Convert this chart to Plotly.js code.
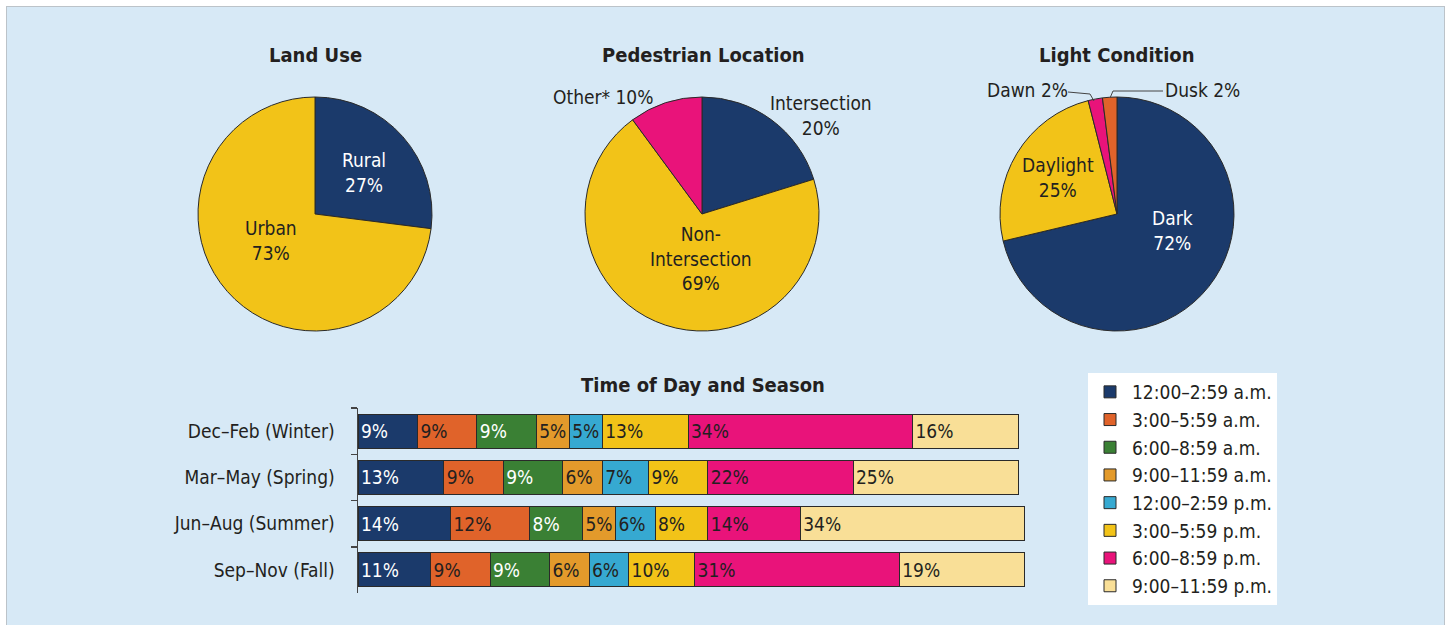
<!DOCTYPE html>
<html><head><meta charset="utf-8">
<script src="https://cdn.plot.ly/plotly-3.0.1.min.js"></script>
<style>
html,body{margin:0;padding:0;background:#fff;width:1449px;height:625px;overflow:hidden}
#bg{position:absolute;left:6px;top:6px;width:1439px;height:630px;background:#d7e9f6;border:1.5px solid #bcc3c9;box-sizing:border-box}
#chart{position:absolute;left:0;top:0;width:1449px;height:625px}
</style></head>
<body><div id="bg"></div><div id="chart"></div>
<script>
// ---- data ----
const landLabels = ['Rural', 'Urban'];
const landValues = [27, 73];
const locLabels = ['Intersection', 'Non-Intersection', 'Other*'];
const locValues = [20, 69, 10];
const lightLabels = ['Dark', 'Daylight', 'Dawn', 'Dusk'];
const lightValues = [72, 25, 2, 2];
const seasons = ['Dec–Feb (Winter)', 'Mar–May (Spring)', 'Jun–Aug (Summer)', 'Sep–Nov (Fall)'];
const timeBands = ['12:00–2:59 a.m.', '3:00–5:59 a.m.', '6:00–8:59 a.m.', '9:00–11:59 a.m.',
                   '12:00–2:59 p.m.', '3:00–5:59 p.m.', '6:00–8:59 p.m.', '9:00–11:59 p.m.'];
// values per time band, in season order
const band1 = [9, 13, 14, 11];
const band2 = [9, 9, 12, 9];
const band3 = [9, 9, 8, 9];
const band4 = [5, 6, 5, 6];
const band5 = [5, 7, 6, 6];
const band6 = [13, 9, 8, 10];
const band7 = [34, 22, 14, 31];
const band8 = [16, 25, 34, 19];
const bands = [band1, band2, band3, band4, band5, band6, band7, band8];

// ---- styles ----
const W = 1449, H = 625;
const X = p => p / W, Y = p => 1 - p / H;
const FONT = '"DejaVu Sans Condensed", "Liberation Sans Narrow", "Roboto", Arial, sans-serif';
const TXT = '#231f20';
const NAVY = '#1b3a6b', ORANGE = '#e0632a', GREEN = '#3a8034', LORANGE = '#e39a2b',
      CYAN = '#36a9d1', YELLOW = '#f2c318', PINK = '#e9137a', LYELLOW = '#f9df97';
const bandColors = [NAVY, ORANGE, GREEN, LORANGE, CYAN, YELLOW, PINK, LYELLOW];
const bandText = ['#fff', TXT, '#fff', TXT, TXT, TXT, TXT, TXT];
const line = {color: '#2a2a2a', width: 1};

function pieDomain(cx, cy, r) {
  return {x: [X(cx - r), X(cx + r)], y: [Y(cy + r), Y(cy - r)]};
}
const R = 117;
const traces = [];
traces.push({type: 'pie', labels: landLabels, values: landValues, sort: false, direction: 'clockwise',
  rotation: 0, marker: {colors: [NAVY, YELLOW], line}, textinfo: 'none', showlegend: false, hoverinfo: 'none',
  domain: pieDomain(315, 214, R)});
traces.push({type: 'pie', labels: locLabels, values: locValues, sort: false, direction: 'clockwise',
  rotation: 0, marker: {colors: [NAVY, YELLOW, PINK], line}, textinfo: 'none', showlegend: false, hoverinfo: 'none',
  domain: pieDomain(702, 214, R)});
traces.push({type: 'pie', labels: lightLabels, values: lightValues, sort: false, direction: 'clockwise',
  rotation: 0, marker: {colors: [NAVY, YELLOW, PINK, ORANGE], line}, textinfo: 'none', showlegend: false, hoverinfo: 'none',
  domain: pieDomain(1117, 214, R)});

bands.forEach((vals, i) => {
  traces.push({type: 'bar', orientation: 'h', name: timeBands[i], y: seasons, x: vals,
    marker: {color: bandColors[i], line},
    text: vals.map(v => v + '%'), textposition: 'inside', insidetextanchor: 'start',
    constraintext: 'none', textangle: 0,
    textfont: {family: FONT, size: 19, color: bandText[i]},
    xaxis: 'x', yaxis: 'y', hoverinfo: 'none'});
});

const ann = [];
function label(text, px, py, color, size, bold, align) {
  ann.push({text: bold ? '<b>' + text + '</b>' : text, x: X(px), y: Y(py), xref: 'paper', yref: 'paper',
    showarrow: false, xanchor: 'center', yanchor: 'middle', align: align || 'center',
    font: {family: FONT, size: size, color: color}});
}
// titles
label('Land Use', 315, 55, TXT, 20, true);
label('Pedestrian Location', 703, 55, TXT, 20, true);
label('Light Condition', 1117, 55, TXT, 20, true);
label('Time of Day and Season', 703, 385, TXT, 20, true);
// pie labels
label(landLabels[0] + '<br>' + landValues[0] + '%', 364, 172, '#fff', 19);
label(landLabels[1] + '<br>' + landValues[1] + '%', 271, 240, TXT, 19);
label(locLabels[0] + '<br>' + locValues[0] + '%', 821, 116, TXT, 19);
label('Non-<br>Intersection<br>' + locValues[1] + '%', 701, 258, TXT, 19);
label(locLabels[2] + ' ' + locValues[2] + '%', 603, 97, TXT, 19);
label(lightLabels[1] + '<br>' + lightValues[1] + '%', 1058, 178, TXT, 19);
label(lightLabels[0] + '<br>' + lightValues[0] + '%', 1172, 230, '#fff', 19);
label(lightLabels[2] + ' ' + lightValues[2] + '%', 1027, 90, TXT, 19);
label(lightLabels[3] + ' ' + lightValues[3] + '%', 1202, 90, TXT, 19);

const shapes = [
  {type: 'path', xref: 'paper', yref: 'paper', line: {color: '#444', width: 1},
   path: `M${X(1068)},${Y(92)} L${X(1090)},${Y(94)} L${X(1094)},${Y(101)}`},
  {type: 'path', xref: 'paper', yref: 'paper', line: {color: '#444', width: 1},
   path: `M${X(1163)},${Y(91)} L${X(1113)},${Y(91)} L${X(1110)},${Y(98)}`},
];

const pxPerUnit = 6.6, xMax = 102;
const layout = {
  width: W, height: H, margin: {l: 0, r: 0, t: 0, b: 0},
  paper_bgcolor: 'rgba(0,0,0,0)', plot_bgcolor: 'rgba(0,0,0,0)',
  barmode: 'stack', bargap: 0.26,
  font: {family: FONT, size: 19, color: TXT},
  xaxis: {domain: [X(358), X(358 + pxPerUnit * xMax)], range: [0, xMax], visible: false, fixedrange: true},
  yaxis: {domain: [Y(593), Y(408)], autorange: 'reversed', type: 'category',
    showline: true, linecolor: '#444', linewidth: 1.5, ticks: 'outside', tickson: 'boundaries',
    ticklen: 6, tickcolor: '#444', tickwidth: 1.5, showgrid: false, zeroline: false,
    tickfont: {family: FONT, size: 19, color: TXT}, ticklabelstandoff: 18},
  showlegend: true,
  legend: {x: X(1088), y: Y(373), xanchor: 'left', yanchor: 'top', bgcolor: '#fff',
    borderwidth: 0, traceorder: 'normal', font: {family: FONT, size: 19, color: TXT},
    itemwidth: 34, tracegroupgap: 0},
  annotations: ann, shapes: shapes
};
Plotly.newPlot('chart', traces, layout, {staticPlot: true});
</script></body></html>
